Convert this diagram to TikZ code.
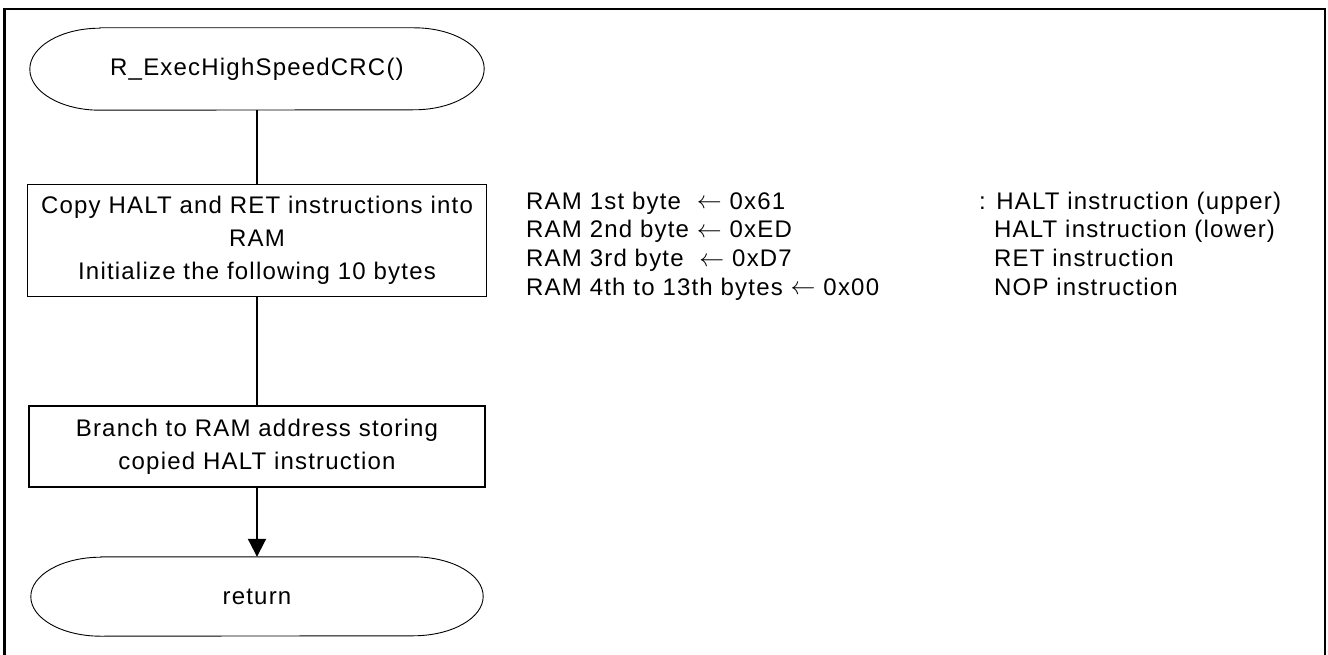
\documentclass[tikz,border=0pt]{standalone}
\usepackage{fontspec}
\setmainfont[LetterSpace=5]{Liberation Sans}
\usetikzlibrary{arrows.meta}
\newcommand{\larr}{\raisebox{0.5pt}{$\leftarrow$}}
\begin{document}
\begin{tikzpicture}[x=1pt,y=-1pt,
  txt/.style={font=\fontsize{24}{33}\selectfont, inner sep=0pt},
  procbox/.style={draw, line width=1.4pt, align=center, font=\fontsize{24}{33}\selectfont, inner sep=0pt},
  termnode/.style={draw=none, font=\fontsize{24}{33}\selectfont, inner sep=0pt},
  termline/.style={line width=0.9pt},
  conn/.style={line width=2pt},
  frameline/.style={line width=2.2pt}]
\useasboundingbox (0,0) rectangle (1328,655);
\draw[frameline] (4.5,656) -- (4.5,9) -- (1325,9) -- (1325,656);

% start terminal
\node[termnode, minimum width=454, minimum height=82] (s) at (257,69) {R\_ExecHighSpeedCRC()};
\draw[termline] ([xshift=70pt]s.north west) -- ([xshift=-70pt]s.north east)
  arc[start angle=90, end angle=-90, x radius=70pt, y radius=41pt]
  -- ([xshift=70pt]s.south west)
  arc[start angle=270, end angle=90, x radius=70pt, y radius=41pt] -- cycle;

% process boxes
\node[procbox, minimum width=459, minimum height=112] (b1) at (257,240.5)
  {Copy HALT and RET instructions into\\RAM\\Initialize the following 10 bytes};
\node[procbox, minimum width=456, minimum height=81] (b2) at (257,446.5)
  {Branch to RAM address storing\\copied HALT instruction};

% end terminal
\node[termnode, minimum width=452, minimum height=79] (e) at (257,596.5) {return};
\draw[termline] ([xshift=70pt]e.north west) -- ([xshift=-70pt]e.north east)
  arc[start angle=90, end angle=-90, x radius=70pt, y radius=39.5pt]
  -- ([xshift=70pt]e.south west)
  arc[start angle=270, end angle=90, x radius=70pt, y radius=39.5pt] -- cycle;

% connectors
\draw[conn] (s.south) -- (b1.north);
\draw[conn] (b1.south) -- (b2.north);
\draw[conn, -{Triangle[length=18pt, width=18pt]}] (b2.south) -- (e.north);

% right-hand notes
\node[txt, anchor=base west] (l1) at (526,209.5) {RAM 1st byte~~\larr{} 0x61};
\node[txt, anchor=base west] (l2) at (526,238) {RAM 2nd byte \larr{} 0xED};
\node[txt, anchor=base west] (l3) at (526,266.5) {RAM 3rd byte~~\larr{} 0xD7};
\node[txt, anchor=base west] (l4) at (526,295) {RAM 4th to 13th bytes \larr{} 0x00};
\node[txt, anchor=base west] (r1) at (979,209.5) {: HALT instruction (upper)};
\node[txt, anchor=base west] (r2) at (994,238) {HALT instruction (lower)};
\node[txt, anchor=base west] (r3) at (994,266.5) {RET instruction};
\node[txt, anchor=base west] (r4) at (994,295) {NOP instruction};
\end{tikzpicture}
\end{document}
